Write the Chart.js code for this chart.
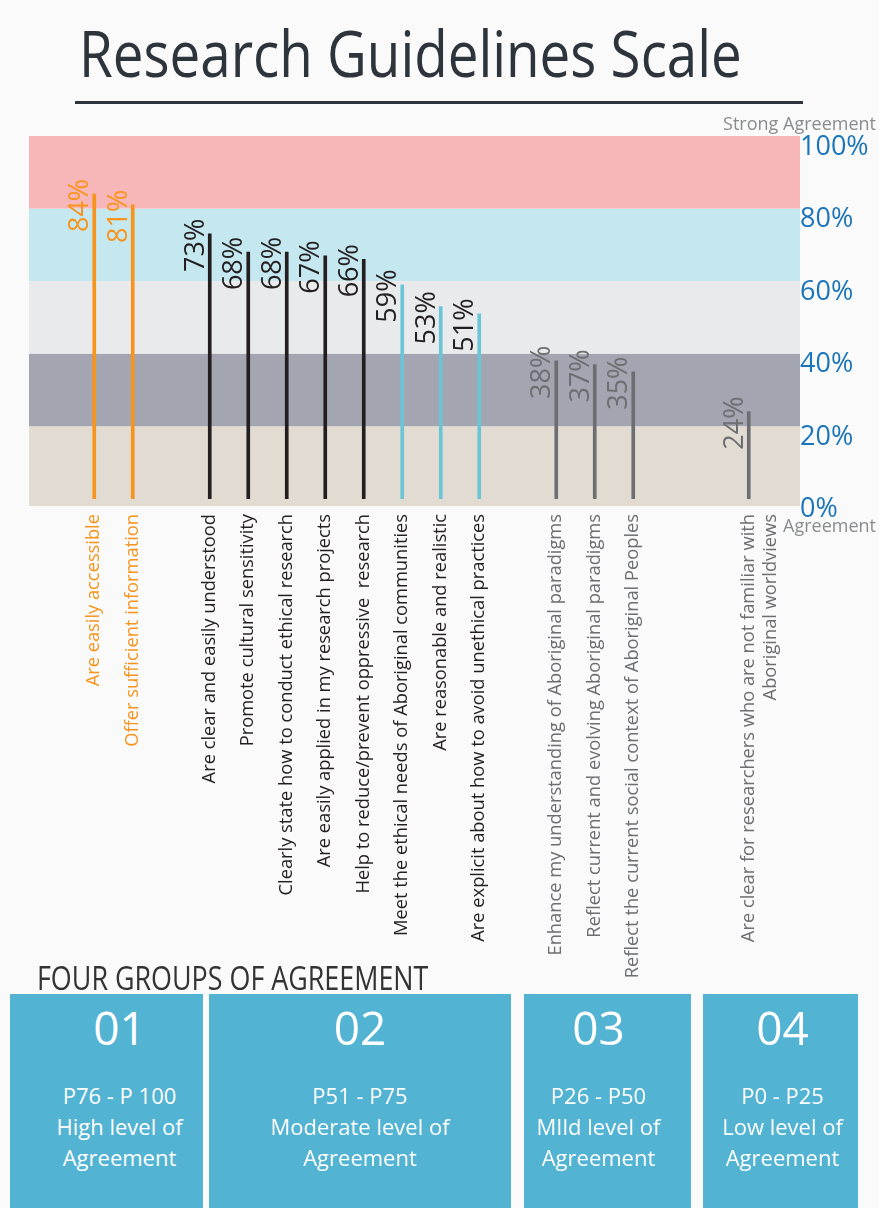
<!DOCTYPE html>
<html>
<head>
<meta charset="utf-8">
<script src="https://cdn.jsdelivr.net/npm/chart.js@4"></script>
<style>
  body { margin: 0; background: #fafafa; font-family: "Open Sans", sans-serif; }
  #page { position: relative; width: 879px; height: 1208px; overflow: hidden; }
  #title { position: absolute; left: 79px; top: 21px; font-size: 64px; line-height: 64px; color: #2d343b;
           transform: scaleX(0.855); transform-origin: left top; white-space: nowrap; }
  #rule { position: absolute; left: 75px; top: 101px; width: 728px; height: 3px; background: #2d343b; }
  #wrap { position: absolute; left: 0; top: 0; width: 879px; height: 1010px; }
  #groupsTitle { position: absolute; left: 37px; top: 962px; font-size: 32px; line-height: 32px; color: #333;
                 transform: scaleX(0.84); transform-origin: left top; white-space: nowrap; }
  .box { position: absolute; top: 994px; height: 214px; background: #52b3d3; color: #fff; text-align: center; box-sizing: border-box; }
  .box .num { margin-top: 6px; font-size: 46px; line-height: 54px; }
  .box .txt { margin-top: 26px; font-size: 22px; line-height: 31px; }
</style>
</head>
<body>
<div id="page">
  <div id="wrap"><canvas id="myChart"></canvas></div>
  <div id="title">Research Guidelines Scale</div>
  <div id="rule"></div>
  <div id="groupsTitle">FOUR GROUPS OF AGREEMENT</div>
  <div class="box" style="left:10px;width:193px;padding-left:26px"><div class="num">01</div><div class="txt">P76 - P 100<br>High level of<br>Agreement</div></div>
  <div class="box" style="left:209px;width:302px"><div class="num">02</div><div class="txt">P51 - P75<br>Moderate level of<br>Agreement</div></div>
  <div class="box" style="left:524px;width:167px;padding-right:18px"><div class="num">03</div><div class="txt">P26 - P50<br>MIld level of<br>Agreement</div></div>
  <div class="box" style="left:703px;width:155px;padding-left:4px"><div class="num">04</div><div class="txt">P0 - P25<br>Low level of<br>Agreement</div></div>
</div>
<script>
// statements, blank slots are the gaps between groups
const statements = [
  "Are easily accessible",
  "Offer sufficient information",
  "",
  "Are clear and easily understood",
  "Promote cultural sensitivity",
  "Clearly state how to conduct ethical research",
  "Are easily applied in my research projects",
  "Help to reduce/prevent oppressive  research",
  "Meet the ethical needs of Aboriginal communities",
  "Are reasonable and realistic",
  "Are explicit about how to avoid unethical practices",
  "",
  "Enhance my understanding of Aboriginal paradigms",
  "Reflect current and evolving Aboriginal paradigms",
  "Reflect the current social context of Aboriginal Peoples",
  "",
  "",
  ["Are clear for researchers who are not familiar with", "Aboriginal worldviews"]
];

const agreement = [84, 81, null, 73, 68, 68, 67, 66, 59, 53, 51, null, 38, 37, 35, null, null, 24];

const yTicks = [0, 20, 40, 60, 80, 100];

const bandColors = ["#e1dbd2", "#a3a5b0", "#e9eaec", "#c5e7ef", "#f7b6b8"];

const ORANGE = "#f7941d";
const BLACK = "#231f20";
const CYAN = "#6cc5d6";
const GREY = "#6d6e71";
const FONT = "'Open Sans', sans-serif";

function textColor(v) {
  if (v >= 75) return ORANGE;
  if (v >= 50) return BLACK;
  return GREY;
}

function barColor(v) {
  if (v >= 75) return ORANGE;
  if (v >= 60) return BLACK;
  if (v >= 50) return CYAN;
  return GREY;
}

// coloured bands behind the bars, one per 20%
const bandsPlugin = {
  id: "bands",
  beforeDatasetsDraw(chart) {
    const ctx = chart.ctx;
    const y = chart.scales.y;
    const area = chart.chartArea;
    const left = area.left - 46;
    const right = area.right + 32;
    ctx.save();
    for (let i = 0; i < bandColors.length; i++) {
      const from = i === 0 ? y.min : yTicks[i];
      const to = yTicks[i + 1];
      const top = y.getPixelForValue(to);
      const bottom = y.getPixelForValue(from);
      ctx.fillStyle = bandColors[i];
      ctx.fillRect(left, top, right - left, bottom - top);
    }
    ctx.fillStyle = "#8a8b8d";
    ctx.font = "18px " + FONT;
    ctx.textAlign = "right";
    ctx.textBaseline = "middle";
    ctx.fillText("Strong Agreement", chart.width - 3, area.top - 11);
    ctx.fillText("Agreement", chart.width - 3, area.bottom + 21);
    ctx.restore();
  }
};

// rotated percentage next to each bar top
const valuePlugin = {
  id: "values",
  afterDatasetsDraw(chart) {
    const ctx = chart.ctx;
    const meta = chart.getDatasetMeta(0);
    ctx.save();
    ctx.font = "27px " + FONT;
    ctx.textAlign = "left";
    ctx.textBaseline = "alphabetic";
    meta.data.forEach((bar, i) => {
      const v = agreement[i];
      if (v == null) return;
      ctx.save();
      ctx.translate(bar.x - 6, bar.y + 38);
      ctx.rotate(-Math.PI / 2);
      ctx.fillStyle = textColor(v);
      ctx.fillText(v + "%", 0, 0);
      ctx.restore();
    });
    ctx.restore();
  }
};

const ctx = document.getElementById("myChart");

new Chart(ctx, {
  type: "bar",
  data: {
    labels: statements,
    datasets: [{
      label: "Agreement",
      data: agreement,
      backgroundColor: agreement.map(v => barColor(v)),
      barThickness: 3
    }]
  },
  options: {
    responsive: true,
    maintainAspectRatio: false,
    animation: false,
    layout: { padding: { top: 136, left: 75, right: 0, bottom: 24 } },
    plugins: { legend: { display: false }, tooltip: { enabled: false } },
    scales: {
      x: {
        grid: { display: false, drawTicks: false },
        border: { display: false },
        ticks: {
          autoSkip: false,
          minRotation: 90,
          maxRotation: 90,
          padding: 8,
          font: { family: FONT, size: 18.3 },
          color: c => textColor(agreement[c.index])
        },
        afterFit(scale) { scale.height = 480; }
      },
      y: {
        position: "right",
        min: -2,
        max: 100,
        grid: { display: false, drawTicks: false },
        border: { display: false },
        afterBuildTicks(scale) { scale.ticks = yTicks.map(v => ({ value: v })); },
        afterFit(scale) { scale.width = 111; },
        ticks: {
          padding: 32,
          labelOffset: 11,
          font: { family: FONT, size: 27 },
          color: "#1b75bb",
          callback: v => v + "%"
        }
      }
    }
  },
  plugins: [bandsPlugin, valuePlugin]
});
</script>
</body>
</html>
